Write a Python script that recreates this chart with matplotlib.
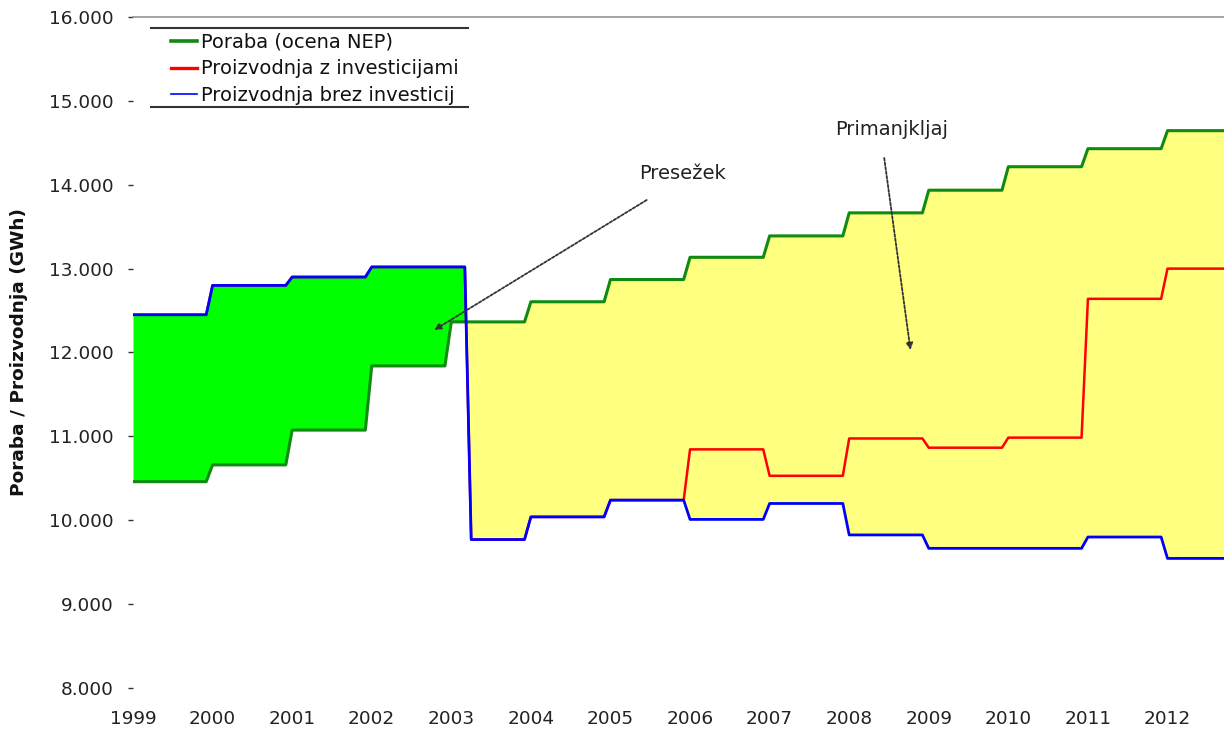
import numpy as np
import matplotlib.pyplot as plt
from matplotlib.lines import Line2D

# values (GWh); each level holds from its start time until the next one
years = [1999, 2000, 2001, 2002, 2003, 2004, 2005, 2006, 2007, 2008, 2009, 2010, 2011, 2012]
poraba = [10460, 10660, 11075, 11840, 12365, 12605, 12870, 13135, 13390, 13665, 13935, 14215, 14430, 14645]

blue_starts = [1999, 2000, 2001, 2002, 2003.25, 2004, 2005, 2006, 2007, 2008, 2009, 2010, 2011, 2012]
brez_inv = [12450, 12800, 12900, 13020, 9770, 10040, 10240, 10010, 10200, 9825, 9665, 9665, 9800, 9545]
z_inv = [12450, 12800, 12900, 13020, 9770, 10040, 10240, 10845, 10530, 10975, 10865, 10985, 12640, 13000]

ytick_vals = [8000, 9000, 10000, 11000, 12000, 13000, 14000, 15000, 16000]
ytick_labels = ['8.000', '9.000', '10.000', '11.000', '12.000', '13.000', '14.000', '15.000', '16.000']
xtick_marks = [2000, 2002, 2003, 2004, 2005, 2007, 2010]

labels = ['Poraba (ocena NEP)', 'Proizvodnja z investicijami', 'Proizvodnja brez investicij']

RAMP = 0.08   # the steps in the picture take about a month
END = 2013


def steps(starts, levels, ramp=RAMP):
    xs, ys = [starts[0]], [levels[0]]
    for i in range(1, len(starts)):
        xs += [starts[i] - ramp, starts[i]]
        ys += [levels[i - 1], levels[i]]
    xs.append(END)
    ys.append(levels[-1])
    return np.array(xs), np.array(ys)


gx, gy = steps(years, poraba)
bx, by = steps(blue_starts, brez_inv)
rx, ry = steps(blue_starts, z_inv)

grid = np.unique(np.concatenate([gx, bx, rx]))
g_on = np.interp(grid, gx, gy)
b_on = np.interp(grid, bx, by)
r_on = np.interp(grid, rx, ry)

fig = plt.figure(figsize=(12.24, 7.35), dpi=100)
ax = fig.add_axes([133 / 1224, 1 - 688 / 735, 1 - 133 / 1224, (688 - 17) / 735])

ax.fill_between(grid, g_on, b_on, where=b_on >= g_on, interpolate=True, color='#00ff00', lw=0)
ax.fill_between(grid, g_on, b_on, where=g_on >= b_on, interpolate=True, color='#ffff80', lw=0)

ax.plot(grid, g_on, color='#108a10', lw=2.2)
ax.plot(grid, r_on, color='#ff0000', lw=1.8)
ax.plot(grid, b_on, color='#0000ff', lw=2.0)

ax.set_xlim(1999, 2012.71)
ax.set_ylim(8000, 16000)

for s in ['left', 'right', 'bottom']:
    ax.spines[s].set_visible(False)
ax.spines['top'].set_color('#8a8a8a')
ax.spines['top'].set_linewidth(1.1)

ax.set_yticks(ytick_vals)
ax.set_yticklabels(ytick_labels)
ax.tick_params(axis='y', length=3.6, width=1.0, pad=10.5, labelsize=13.3, color='#333333', labelcolor='#222222')

ax.set_xticks(years)
ax.set_xticklabels([str(y) for y in years])
ax.tick_params(axis='x', which='major', length=0, pad=16, labelsize=13.3, labelcolor='#222222')
ax.set_xticks(xtick_marks, minor=True)
ax.tick_params(axis='x', which='minor', length=5, width=1.0, color='#333333')

fig.text(19 / 1224, 1 - 352 / 735, 'Poraba / Proizvodnja (GWh)', rotation=90,
         ha='center', va='center', fontsize=13.3, fontweight='bold', color='#111111')

# legend between two horizontal rules
handles = [Line2D([], [], color='#108a10', lw=2.6),
           Line2D([], [], color='#ff0000', lw=2.4),
           Line2D([], [], color='#0000ff', lw=1.2)]
leg = ax.legend(handles, labels, loc='upper left', bbox_to_anchor=(171 / 1224, 1 - 33 / 735),
                bbox_transform=fig.transFigure, frameon=False, fontsize=14,
                handlelength=1.35, handletextpad=0.2, labelspacing=0.38,
                borderpad=0, borderaxespad=0)
for t in leg.get_texts():
    t.set_color('#111111')
for yy in [28, 107]:
    fig.add_artist(Line2D([151 / 1224, 468 / 1224], [1 - yy / 735, 1 - yy / 735],
                          transform=fig.transFigure, color='#333333', lw=1.5))

arrow = dict(arrowstyle='-|>', linestyle=(0, (1.5, 1)), color='#333333', lw=1.3,
             mutation_scale=10, shrinkA=0, shrinkB=0)
ax.annotate('', xy=(2002.785, 12268), xytext=(2005.455, 13818), arrowprops=arrow)
ax.text(2005.91, 14140, 'Presežek', ha='center', va='center', fontsize=14, color='#222222')
ax.annotate('', xy=(2008.77, 12030), xytext=(2008.44, 14319), arrowprops=arrow)
ax.text(2008.53, 14653, 'Primanjkljaj', ha='center', va='center', fontsize=14, color='#222222')

fig.savefig('out.png', dpi=100)
